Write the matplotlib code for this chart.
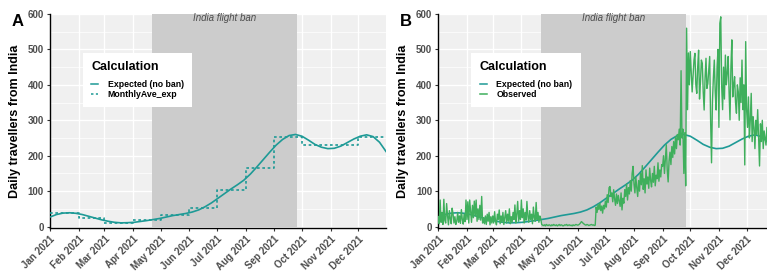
import matplotlib
matplotlib.use('Agg')
import matplotlib.pyplot as plt
from matplotlib.lines import Line2D
import pandas as pd

plt.rcParams['font.family'] = ['Liberation Sans', 'DejaVu Sans']

# ---------------- data ----------------
month_labels = ['Jan 2021', 'Feb 2021', 'Mar 2021', 'Apr 2021', 'May 2021', 'Jun 2021',
                'Jul 2021', 'Aug 2021', 'Sep 2021', 'Oct 2021', 'Nov 2021', 'Dec 2021']
y_ticks = [0, 100, 200, 300, 400, 500, 600]

ban_start = '2021-04-22'
ban_end = '2021-09-26'
ban_label = 'India flight ban'

# monthly average of expected (step)
monthly_ave = [39, 23, 11, 19, 33, 52, 103, 165, 254, 229, 229, 254]

# expected (no ban), weekly readings from 1 Jan 2021
expected_weekly = [27, 34, 38, 39, 37.5, 34, 29, 24, 19, 15,
                   12, 10.5, 11, 12, 14.5, 17, 20, 23, 27, 31,
                   34, 37, 41, 47, 56, 67, 80, 93, 106, 118,
                   131, 148, 168, 189, 210, 230, 246, 257, 260, 255,
                   244, 232, 224, 220, 221, 227, 237, 247, 255, 259,
                   254, 238, 212]

# observed daily, by month
obs_jan = [28, 8, 75, 12, 40, 6, 77, 18, 10, 65, 30, 5, 45, 22, 8, 52, 35, 10, 28, 6,
           15, 40, 12, 30, 9, 48, 20, 7, 35, 14, 75]
obs_feb = [20, 70, 10, 75, 45, 12, 60, 25, 72, 30, 75, 15, 50, 20, 60, 18, 85, 10, 25, 8,
           30, 6, 35, 15, 40, 5, 28, 10]
obs_mar = [30, 10, 42, 15, 5, 35, 20, 47, 8, 30, 12, 40, 6, 25, 45, 10, 35, 15, 50, 8,
           28, 12, 40, 20, 61, 10, 35, 71, 15, 45, 20]
obs_apr = [75, 25, 50, 10, 40, 18, 71, 30, 12, 45, 20, 35, 8, 55, 25, 15, 68, 20, 40, 12,
           30, 22, 6, 4, 3, 5, 2, 6, 4, 3]
obs_may = [5, 4, 2, 5, 3, 6, 4, 3, 5, 2, 4, 6, 3, 5, 4, 2, 3, 5, 4, 6,
           3, 4, 5, 3, 4, 2, 5, 3, 4, 6, 5]
obs_jun = [4, 5, 7, 10, 14, 12, 9, 7, 5, 4, 6, 5, 3, 4, 5, 6, 4, 5, 3, 4,
           55, 40, 62, 48, 66, 45, 58, 38, 60, 50]
obs_jul = [72, 55, 90, 68, 110, 113, 85, 95, 70, 104, 78, 60, 92, 65, 88, 72, 57, 95, 47, 80,
           66, 104, 85, 120, 75, 110, 92, 130, 100, 150, 170]
obs_aug = [120, 95, 140, 110, 85, 130, 100, 150, 118, 172, 105, 135, 95, 160, 120, 140, 108, 165, 130, 112,
           150, 125, 170, 115, 145, 135, 180, 128, 160, 140, 175]
obs_sep = [170, 200, 150, 190, 231, 160, 126, 185, 210, 175, 226, 195, 240, 205, 254, 220, 260, 245, 275, 230,
           440, 250, 275, 150, 265, 115, 560, 330, 490, 400]
obs_oct = [494, 440, 380, 423, 470, 489, 400, 376, 450, 498, 360, 409, 470, 461, 380, 329, 420, 475, 390, 404,
           440, 480, 300, 180, 353, 420, 470, 380, 329, 450, 500]
obs_nov = [280, 574, 592, 395, 330, 450, 360, 484, 400, 432, 480, 380, 301, 450, 527, 366, 400, 423, 350, 320,
           400, 380, 300, 420, 350, 470, 330, 400, 174, 522]
obs_dec = [330, 280, 366, 250, 301, 376, 240, 310, 280, 220, 300, 260, 330, 250, 171, 290, 240, 300, 220, 270,
           250, 230, 280, 240, 260, 220, 250, 270, 230, 250, 240]

observed = (obs_jan + obs_feb + obs_mar + obs_apr + obs_may + obs_jun +
            obs_jul + obs_aug + obs_sep + obs_oct + obs_nov + obs_dec)

dates_daily = pd.date_range('2021-01-01', periods=len(observed), freq='D')
dates_weekly = pd.date_range('2021-01-01', periods=len(expected_weekly), freq='7D')
month_starts = pd.date_range('2021-01-01', periods=12, freq='MS')
step_x = list(month_starts) + [pd.Timestamp('2021-12-31')]
step_y = monthly_ave + [monthly_ave[-1]]

TEAL = '#1E9A96'
GREEN = '#3FAF5C'
TXT = '#4D4D4D'

# ---------------- figure ----------------
W, H = 767, 276
fig = plt.figure(figsize=(W / 100, H / 100), dpi=100)
ax_w = 336 / W
ax_h = 214 / H
ax_b = 1 - 228 / H
axA = fig.add_axes([50 / W, ax_b, ax_w, ax_h])
axB = fig.add_axes([438.3 / W, ax_b, ax_w, ax_h])


def style(ax, label_x):
    ax.set_facecolor('#F0F0F0')
    ax.set_xlim(pd.Timestamp('2021-01-01'), pd.Timestamp('2021-12-31'))
    ax.set_ylim(-4, 600)
    ax.set_yticks(y_ticks)
    ax.set_yticks([50, 150, 250, 350, 450, 550], minor=True)
    ax.set_xticks(month_starts)
    ax.set_xticklabels(month_labels, rotation=45, ha='right', va='top',
                       rotation_mode='anchor', fontweight='bold')
    ax.set_yticklabels([str(v) for v in y_ticks], fontweight='bold')
    ax.grid(which='major', color='white', lw=1.0)
    ax.grid(which='minor', axis='y', color='white', lw=0.5)
    ax.set_axisbelow(True)
    for s in ['top', 'right']:
        ax.spines[s].set_visible(False)
    for s in ['left', 'bottom']:
        ax.spines[s].set_color('black')
        ax.spines[s].set_linewidth(1.0)
    ax.tick_params(which='major', length=2.5, width=0.8, color='#333333',
                   labelsize=7, labelcolor=TXT, pad=2)
    ax.tick_params(which='minor', length=0)
    ax.fill_between([pd.Timestamp(ban_start), pd.Timestamp(ban_end)], 0, 600,
                    color='#CCCCCC', lw=0, zorder=1)
    mid = pd.Timestamp(ban_start) + (pd.Timestamp(ban_end) - pd.Timestamp(ban_start)) / 2
    ax.text(mid, 588, ban_label, ha='center', va='center', fontsize=7,
            style='italic', color=TXT, zorder=5)
    ax.set_ylabel('Daily travellers from India', fontsize=9, fontweight='bold',
                  color='black')
    ax.yaxis.set_label_coords(label_x, 0.5)


style(axA, -0.085)
style(axB, -0.087)

# panel A
axA.plot(dates_weekly, expected_weekly, color=TEAL, lw=1.2, zorder=3)
axA.plot(step_x, step_y, color=TEAL, lw=1.2, ls=(0, (1.6, 1.6)),
         drawstyle='steps-post', zorder=3)

# panel B
axB.plot(dates_weekly, expected_weekly, color=TEAL, lw=1.2, zorder=3)
axB.plot(dates_daily, observed, color=GREEN, lw=1.0, zorder=4)


def legend(ax, handles, labels):
    leg = ax.legend(handles, labels, title='Calculation', loc='upper left',
                    bbox_to_anchor=(0.098, 0.818), fontsize=6.3,
                    title_fontproperties={'weight': 'bold', 'size': 9},
                    frameon=True, fancybox=False, framealpha=1,
                    handlelength=0.8, handletextpad=1.1, labelspacing=0.1,
                    borderpad=0.95, borderaxespad=0, alignment='left')
    leg.get_frame().set_facecolor('white')
    leg.get_frame().set_edgecolor('none')
    for t in leg.get_texts():
        t.set_fontweight('bold')
    leg._legend_box.sep = 5
    leg.set_zorder(10)


legend(axA,
       [Line2D([], [], color=TEAL, lw=1.1),
        Line2D([], [], color=TEAL, lw=1.1, ls=(0, (1.6, 1.6)))],
       ['Expected (no ban)', 'MonthlyAve_exp'])
legend(axB,
       [Line2D([], [], color=TEAL, lw=1.1),
        Line2D([], [], color=GREEN, lw=1.1)],
       ['Expected (no ban)', 'Observed'])

fig.text(12 / W, 1 - 26 / H, 'A', fontsize=12, fontweight='bold', ha='left', va='baseline')
fig.text(400 / W, 1 - 26 / H, 'B', fontsize=12, fontweight='bold', ha='left', va='baseline')

fig.savefig('out.png', dpi=100)
